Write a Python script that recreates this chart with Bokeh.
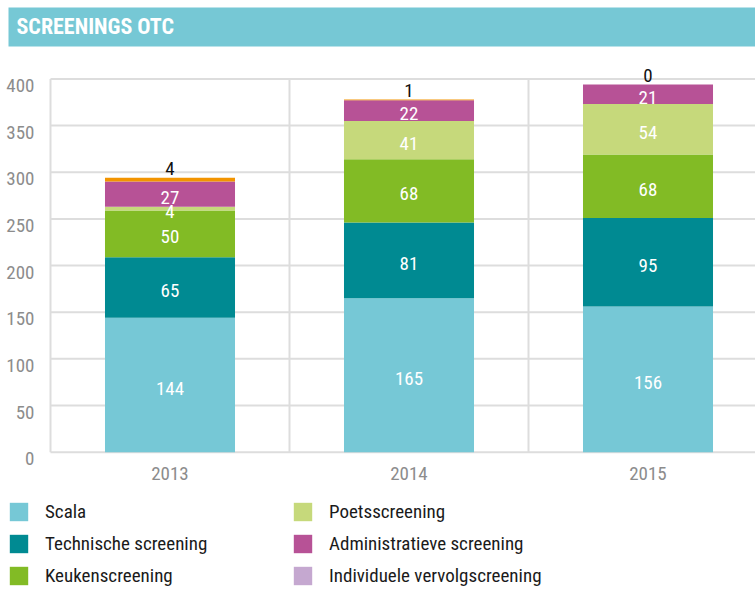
from bokeh.plotting import figure
from bokeh.models import (ColumnDataSource, Legend, LegendItem, Label, FixedTicker,
                          Range1d, BoxAnnotation, LinearAxis)
from bokeh.embed import file_html
from bokeh.resources import INLINE

# ---- data ----
years = ["2013", "2014", "2015"]
series_names = ["Scala", "Technische screening", "Keukenscreening", "Poetsscreening",
                "Administratieve screening", "Individuele vervolgscreening", "Overige screening"]
scala = [144, 165, 156]
technische = [65, 81, 95]
keuken = [50, 68, 68]
poets = [4, 41, 54]
administratief = [27, 22, 21]
individueel = [0, 0, 0]
overig = [4, 1, 0]
y_ticks = [0, 50, 100, 150, 200, 250, 300, 350, 400]

colors = ["#76c8d6", "#008a92", "#82bb25", "#c6d97b", "#b75296", "#c5a8d0", "#f29400"]
FONT = "'Noto Sans Condensed', 'Roboto Condensed', 'Liberation Sans Narrow', 'DejaVu Sans Condensed', 'Liberation Sans', sans-serif"
TEAL = "#76c8d5"
GRID = "#dddddd"
TICK = "#8c8c8c"

all_series = [scala, technische, keuken, poets, administratief, individueel, overig]
keys = ["s%d" % i for i in range(len(all_series))]
xs = [i + 0.5 for i in range(len(years))]

data = {"x": xs}
for k, s in zip(keys, all_series):
    data[k] = s
src = ColumnDataSource(data)

# ---- geometry (pixels of the canvas) ----
W, H = 755, 589
x0_px = 50.0          # left of plotting area
cat_px = 239.0        # width of one category
y0_px = 451.7         # baseline (value 0), from top
unit_px = 0.9333      # pixels per unit
label_drop_px = 6.5   # y tick labels sit slightly below their grid line


def dx(px):
    return (px - x0_px) / cat_px


def dy(py):
    return (y0_px - py) / unit_px


p = figure(width=W, height=H, x_range=Range1d(dx(0), dx(W)), y_range=Range1d(dy(H), dy(0)),
           toolbar_location=None, output_backend="svg", min_border=0,
           outline_line_color=None, y_axis_location=None)
p.xgrid.visible = False
p.ygrid.visible = False

# title bar
p.add_layout(BoxAnnotation(left=dx(8), right=dx(W), top=dy(7), bottom=dy(46),
                           fill_color=TEAL, fill_alpha=1, line_color=None, level="underlay"))
p.add_layout(Label(x=dx(16), y=dy(26), text="SCREENINGS OTC", text_font=FONT,
                   text_font_style="bold", text_font_size="22px", text_color="white",
                   text_baseline="middle"))

# grid lines
n = len(y_ticks)
p.segment(x0=[0] * n, y0=y_ticks, x1=[dx(W)] * n, y1=y_ticks, line_color=GRID, line_width=2)
bounds = list(range(len(years) + 1))
p.segment(x0=bounds, y0=[0] * len(bounds), x1=bounds, y1=[y_ticks[-1]] * len(bounds),
          line_color=GRID, line_width=2)

renderers = p.vbar_stack(keys, x="x", width=0.544, source=src,
                         fill_color=colors, line_color=None)

# segment labels
lx, ly, lt = [], [], []
tx, ty, tt = [], [], []
for i in range(len(years)):
    base = 0
    for j, s in enumerate(all_series):
        v = s[i]
        if j == len(all_series) - 1:
            tx.append(xs[i]); ty.append(base + v); tt.append(str(v))
        elif j != 5:
            lx.append(xs[i]); ly.append(base + v / 2); lt.append(str(v))
        base += v

p.text(x=lx, y=ly, text=lt, text_color="white", text_font_size="19px",
       text_font={"value": FONT}, text_align="center", text_baseline="middle", y_offset=3)
p.text(x=tx, y=ty, text=tt, text_color="#111111", text_font_size="19px",
       text_font={"value": FONT}, text_align="center", text_baseline="middle", y_offset=-9)

# y axis (inside the frame), on a range shifted so labels sit a little below the lines
off = label_drop_px / unit_px
p.extra_y_ranges = {"labels": Range1d(dy(H) + off, dy(0) + off)}
yax = LinearAxis(y_range_name="labels", fixed_location=0,
                 ticker=FixedTicker(ticks=y_ticks), axis_line_color=None,
                 major_tick_line_color=None, minor_tick_line_color=None,
                 major_label_text_color=TICK, major_label_text_font_size="19px",
                 major_label_text_font=FONT, major_label_standoff=10)
p.add_layout(yax, "left")

p.xaxis.fixed_location = 0
p.xaxis.ticker = FixedTicker(ticks=xs)
p.xaxis.bounds = (0, len(years))
p.xaxis.major_label_overrides = {x: y for x, y in zip(xs, years)}
p.xaxis.axis_line_color = None
p.xaxis.major_tick_line_color = None
p.xaxis.minor_tick_line_color = None
p.xaxis.major_label_text_color = TICK
p.xaxis.major_label_text_font_size = "19px"
p.xaxis.major_label_text_font = FONT
p.xaxis.major_label_standoff = 9


def make_legend(idx, loc):
    lg = Legend(items=[LegendItem(label=series_names[i], renderers=[renderers[i]]) for i in idx],
                location=loc, orientation="vertical", glyph_width=23, glyph_height=23,
                label_standoff=15, spacing=9, padding=0, margin=0, border_line_color=None,
                background_fill_alpha=0, label_text_font=FONT, label_text_font_size="19px",
                label_text_color="#1a1a1a", label_height=23)
    p.add_layout(lg)


make_legend([0, 1, 2], (7, 2))
make_legend([3, 4, 5], (291, 2))

open("out.html", "w").write(file_html(p, INLINE))
